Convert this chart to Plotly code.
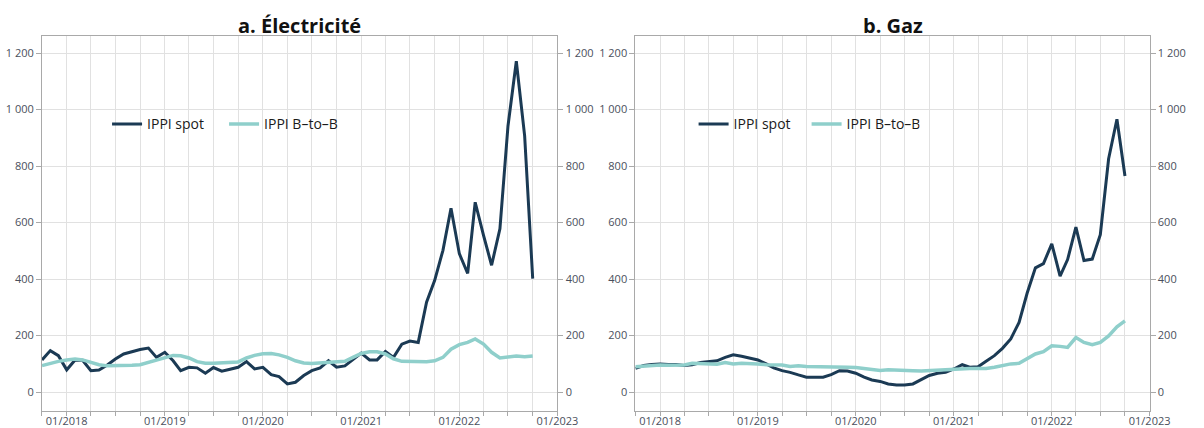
import pandas as pd
import plotly.graph_objects as go

# ---- data (monthly, Oct 2017 -> Oct 2022) ----
months = pd.date_range("2017-10-01", "2022-10-01", freq="MS")

elec_spot = [114, 147, 129, 79, 114, 113, 76, 78, 96, 117,
             135, 144, 151, 156, 123, 141, 111, 76, 88, 86,
             67, 87, 74, 81, 88, 108, 82, 88, 62, 55,
             29, 35, 59, 76, 86, 111, 88, 93, 114, 138,
             114, 114, 144, 123, 170, 181, 176, 318, 395, 502,
             651, 490, 420, 672, 555, 449, 578, 942, 1171, 907,
             402]
elec_btob = [94, 102, 109, 114, 117, 114, 105, 97, 93, 93,
             95, 95, 97, 105, 114, 123, 130, 129, 121, 108,
             102, 102, 103, 103, 107, 121, 130, 136, 137, 132,
             123, 111, 103, 101, 103, 104, 104, 109, 123, 137,
             143, 143, 135, 118, 109, 108, 108, 108, 111, 123,
             152, 168, 176, 188, 170, 141, 121, 125, 128, 125,
             128]
gaz_spot = [84, 94, 98, 100, 98, 98, 94, 97, 105, 108,
            111, 123, 132, 127, 120, 114, 100, 86, 76, 70,
            61, 53, 53, 53, 62, 76, 75, 67, 53, 43,
            38, 29, 25, 25, 29, 43, 59, 67, 70, 82,
            97, 88, 90, 109, 129, 155, 188, 247, 350, 440,
            455, 525, 411, 469, 584, 466, 471, 557, 826, 966,
            765]
gaz_btob = [90, 93, 95, 96, 95, 94, 96, 102, 102, 102,
            99, 105, 100, 102, 102, 100, 97, 97, 96, 91,
            93, 91, 91, 89, 88, 89, 88, 87, 83, 79,
            77, 79, 77, 76, 76, 75, 77, 79, 81, 83,
            84, 84, 84, 84, 88, 94, 100, 102, 117, 135,
            143, 164, 162, 158, 193, 176, 168, 176, 199, 231,
            252]

series_names = ["IPPI spot", "IPPI B\u2013to\u2013B"]
panel_titles = ["a. \u00c9lectricit\u00e9", "b. Gaz"]
y_ticks = [0, 200, 400, 600, 800, 1000, 1200]
y_ticktext = ["0", "200", "400", "600", "800", "1 000", "1 200"]

# ---- styles ----
DARK = "#1b3a54"
TEAL = "#8fcfcb"
GRID = "#e1e1e1"
AXIS = "#a9a9a9"
TICKFONT = dict(family="Open Sans", size=11, color="#4a4f5c")
FONT = "Open Sans"

fig = go.Figure()

# spot series on the left axis, B-to-B on the (identically scaled) right axis
fig.add_trace(go.Scatter(x=months, y=elec_spot, name=series_names[0], mode="lines",
                         line=dict(color=DARK, width=3), xaxis="x", yaxis="y", legend="legend"))
fig.add_trace(go.Scatter(x=months, y=elec_btob, name=series_names[1], mode="lines",
                         line=dict(color=TEAL, width=3.5), xaxis="x", yaxis="y2", legend="legend"))
fig.add_trace(go.Scatter(x=months, y=gaz_spot, name=series_names[0], mode="lines",
                         line=dict(color=DARK, width=3), xaxis="x2", yaxis="y3", legend="legend2"))
fig.add_trace(go.Scatter(x=months, y=gaz_btob, name=series_names[1], mode="lines",
                         line=dict(color=TEAL, width=3.5), xaxis="x2", yaxis="y4", legend="legend2"))

yrange = [-66, 1261]
xrange = ["2017-10-01", "2023-01-01"]
ydom = [0.0357, 0.9159]
xdom_a = [0.0355, 0.4712]
xdom_b = [0.5371, 0.9718]


def xaxis_def(dom, anchor):
    return dict(domain=dom, anchor=anchor, type="date", range=xrange,
                tick0="2018-01-01", dtick="M12", tickformat="%m/%Y",
                showgrid=True, gridcolor=GRID, gridwidth=1,
                ticks="outside", ticklen=4, tickcolor=AXIS,
                ticklabelstandoff=-4,
                minor=dict(dtick="M3", tick0="2018-01-01", showgrid=True, gridcolor=GRID,
                           ticks="outside", ticklen=4, tickcolor=AXIS),
                showline=True, linecolor=AXIS, linewidth=1, mirror=True,
                tickfont=TICKFONT, fixedrange=True)


def yaxis_def(anchor, side="left", overlay=None):
    d = dict(anchor=anchor, range=yrange, tickvals=y_ticks, ticktext=y_ticktext,
             showgrid=(overlay is None), gridcolor=GRID, gridwidth=1, zeroline=False,
             ticks="outside", ticklen=5, tickcolor=AXIS,
             showline=True, linecolor=AXIS, linewidth=1,
             tickfont=TICKFONT, side=side, fixedrange=True)
    if overlay is None:
        d["domain"] = ydom
    else:
        d["overlaying"] = overlay
    return d


legend_common = dict(orientation="h", yanchor="middle", y=0.708, xanchor="left",
                     bgcolor="rgba(0,0,0,0)", borderwidth=0, itemwidth=30,
                     font=dict(family=FONT, size=14, color="#1a1a1a"),
                     entrywidthmode="pixels")

fig.update_layout(
    width=1204, height=428,
    margin=dict(l=0, r=0, t=0, b=0),
    paper_bgcolor="white", plot_bgcolor="white",
    font=dict(family=FONT),
    xaxis=xaxis_def(xdom_a, "y"),
    xaxis2=xaxis_def(xdom_b, "y3"),
    yaxis=yaxis_def("x"),
    yaxis2=yaxis_def("x", side="right", overlay="y"),
    yaxis3=yaxis_def("x2"),
    yaxis4=yaxis_def("x2", side="right", overlay="y3"),
    legend=dict(legend_common, x=0.0905, entrywidth=72),
    legend2=dict(legend_common, x=0.5863, entrywidth=68),
    showlegend=True,
    annotations=[
        dict(text="<b>" + panel_titles[0] + "</b>", x=sum(xdom_a) / 2, y=0.94,
             xref="paper", yref="paper", showarrow=False, xanchor="center", yanchor="middle",
             font=dict(family=FONT, size=20, color="#111111")),
        dict(text="<b>" + panel_titles[1] + "</b>", x=sum(xdom_b) / 2, y=0.94,
             xref="paper", yref="paper", showarrow=False, xanchor="center", yanchor="middle",
             font=dict(family=FONT, size=20, color="#111111")),
    ],
)

fig.write_html("out.html", config={"displayModeBar": False},
               post_script="document.body.style.margin='0';document.body.style.overflow='hidden';")
